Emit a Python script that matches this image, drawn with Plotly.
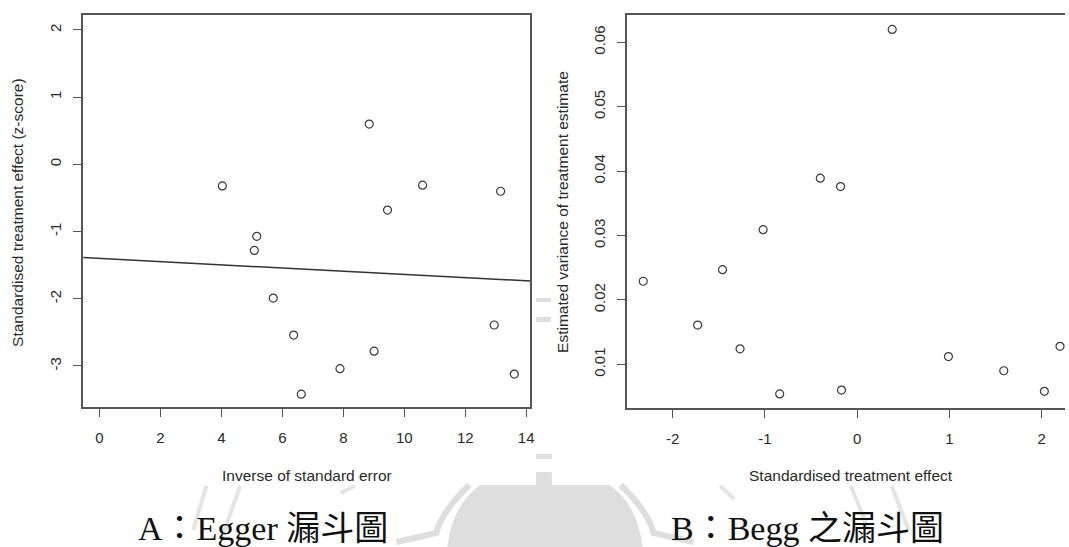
import plotly.graph_objects as go

W, H = 1069, 547

# ---- Panel A data (Egger) ----
egger_x = [4.03, 5.16, 5.08, 8.85, 9.45, 10.60, 13.16, 5.70, 6.37, 6.62, 7.89, 9.01, 12.95, 13.61]
egger_y = [-0.32, -1.07, -1.28, 0.60, -0.68, -0.31, -0.40, -1.99, -2.54, -3.42, -3.04, -2.78, -2.39, -3.12]
egger_intercept = -1.40
egger_slope = -0.0237
egger_xticks = [0, 2, 4, 6, 8, 10, 12, 14]
egger_xticklabels = ["0", "2", "4", "6", "8", "10", "12", "14"]
egger_yticks = [-3, -2, -1, 0, 1, 2]
egger_yticklabels = ["-3", "-2", "-1", "0", "1", "2"]
egger_xrange = [-0.536, 14.135]
egger_yrange = [-3.615, 2.223]

# ---- Panel B data (Begg) ----
begg_x = [0.38, -0.40, -0.18, -1.02, -1.46, -2.32, -1.73, -1.27, -0.84, -0.17, 0.99, 1.59, 2.03, 2.20]
begg_y = [0.0620, 0.0389, 0.0376, 0.0309, 0.0247, 0.0229, 0.0161, 0.0124, 0.0054, 0.0060, 0.0112, 0.0090, 0.0058, 0.0128]
begg_xticks = [-2, -1, 0, 1, 2]
begg_xticklabels = ["-2", "-1", "0", "1", "2"]
begg_yticks = [0.01, 0.02, 0.03, 0.04, 0.05, 0.06]
begg_yticklabels = ["0.01", "0.02", "0.03", "0.04", "0.05", "0.06"]
begg_xrange = [-2.50, 2.254]
begg_yrange = [0.00317, 0.06424]

# ---- Texts ----
egger_xtitle = "Inverse of standard error"
egger_ytitle = "Standardised treatment effect (z-score)"
begg_xtitle = "Standardised treatment effect"
begg_ytitle = "Estimated variance of treatment estimate"
caption_a = "A：Egger 漏斗圖"
caption_b = "B：Begg 之漏斗圖"


def px(x):
    return x / W


def py(y):
    return 1 - y / H


AXC = "#555555"
TXT = "#2a2a2a"
SANS = "Liberation Sans, Arial, Helvetica, sans-serif"
SERIF = "Liberation Serif, Times New Roman, Noto Sans CJK TC, serif"
TICKFONT = dict(family=SANS, size=15, color=TXT)

marker = dict(symbol="circle-open", size=8, color="#3a3a3a", line=dict(width=1.2, color="#3a3a3a"))

fig = go.Figure()
fig.add_trace(go.Scatter(x=egger_x, y=egger_y, mode="markers", marker=marker,
                         xaxis="x", yaxis="y", showlegend=False, hoverinfo="skip"))
line_x = egger_xrange
line_y = [egger_intercept + egger_slope * v for v in line_x]
fig.add_trace(go.Scatter(x=line_x, y=line_y, mode="lines", line=dict(color="#333333", width=1.5),
                         xaxis="x", yaxis="y", showlegend=False, hoverinfo="skip"))
fig.add_trace(go.Scatter(x=begg_x, y=begg_y, mode="markers", marker=marker,
                         xaxis="x2", yaxis="y2", showlegend=False, hoverinfo="skip"))

common = dict(showline=True, linecolor=AXC, linewidth=1.5, ticks="outside", ticklen=8,
              tickwidth=1.2, tickcolor=AXC, showgrid=False, zeroline=False, tickfont=TICKFONT)

fig.update_layout(
    width=W, height=H,
    margin=dict(l=0, r=0, t=0, b=0),
    paper_bgcolor="white", plot_bgcolor="rgba(0,0,0,0)",
    xaxis=dict(domain=[px(83.5), px(532.3)], range=egger_xrange, tickvals=egger_xticks,
               ticktext=egger_xticklabels, mirror=True, anchor="y", ticklabelstandoff=8, **common),
    yaxis=dict(domain=[py(407.3), py(15)], range=egger_yrange, tickvals=egger_yticks,
               ticktext=egger_yticklabels, tickangle=-90, mirror=True, anchor="x",
               ticklabelstandoff=6, **common),
    xaxis2=dict(domain=[px(629), 1.0], range=begg_xrange, tickvals=begg_xticks,
                ticktext=begg_xticklabels, mirror=True, anchor="y2", ticklabelstandoff=8, **common),
    yaxis2=dict(domain=[py(408.3), py(15)], range=begg_yrange, tickvals=begg_yticks,
                ticktext=begg_yticklabels, tickangle=-90, mirror=False, anchor="x2",
                ticklabelstandoff=6, **common),
)


def note(text, x, y, size, family, color, angle=0):
    return dict(text=text, x=px(x), y=py(y), xref="paper", yref="paper", xanchor="center",
                yanchor="middle", textangle=angle, showarrow=False,
                font=dict(family=family, size=size, color=color))


ann = [
    note(egger_xtitle, 307.9, 475, 15.5, SANS, TXT),
    note(begg_xtitle, 854, 475, 15.5, SANS, TXT),
    note(egger_ytitle, 18, 212, 15.5, SANS, TXT, -90),
    note(begg_ytitle, 564.5, 211.5, 15.5, SANS, TXT, -90),
    note(caption_a, 264, 528, 34, SERIF, "#111111"),
    note(caption_b, 810.5, 528, 34, SERIF, "#111111"),
]
fig.update_layout(annotations=ann)

# ---- faint watermark (decoration) ----
WM = "#dedede"


def qpath(start, ctrl, end, extra=None):
    s = f"M{px(start[0]):.5f},{py(start[1]):.5f} Q{px(ctrl[0]):.5f},{py(ctrl[1]):.5f} {px(end[0]):.5f},{py(end[1]):.5f}"
    if extra:
        for (a, b) in extra:
            s += f" L{px(a):.5f},{py(b):.5f}"
    return s


shapes = []
dome = (f"M{px(482):.5f},{py(485):.5f} L{px(612):.5f},{py(485):.5f} "
        f"Q{px(640):.5f},{py(505):.5f} {px(645):.5f},{py(547):.5f} "
        f"L{px(449):.5f},{py(547):.5f} Q{px(454):.5f},{py(505):.5f} {px(482):.5f},{py(485):.5f} Z")
shapes.append(dict(type="path", path=dome, xref="paper", yref="paper", fillcolor=WM,
                   line=dict(width=0), layer="below"))
shapes.append(dict(type="path", path=qpath((471, 485), (443, 512), (438, 533), extra=[(398, 542)]),
                   xref="paper", yref="paper", line=dict(color=WM, width=6), layer="below"))
shapes.append(dict(type="path", path=qpath((623, 485), (651, 512), (656, 533), extra=[(696, 542)]),
                   xref="paper", yref="paper", line=dict(color=WM, width=6), layer="below"))
for (x0, y0, x1, y1) in [(538, 472, 554, 485), (538, 454, 554, 459), (538, 298, 553, 302), (538, 317, 553, 322)]:
    shapes.append(dict(type="rect", x0=px(x0), x1=px(x1), y0=py(y1), y1=py(y0), xref="paper", yref="paper",
                       fillcolor=WM, line=dict(width=0), layer="below"))
for (x0, y0, x1, y1) in [(207, 486, 194, 530), (241, 486, 222, 540), (342, 493, 356, 486),
                         (854, 486, 872, 530), (895, 486, 912, 530), (723, 486, 737, 499)]:
    shapes.append(dict(type="line", x0=px(x0), y0=py(y0), x1=px(x1), y1=py(y1), xref="paper", yref="paper",
                       line=dict(color="#e4e4e4", width=4), layer="below"))
fig.update_layout(shapes=shapes)

fig.write_html("out.html")
